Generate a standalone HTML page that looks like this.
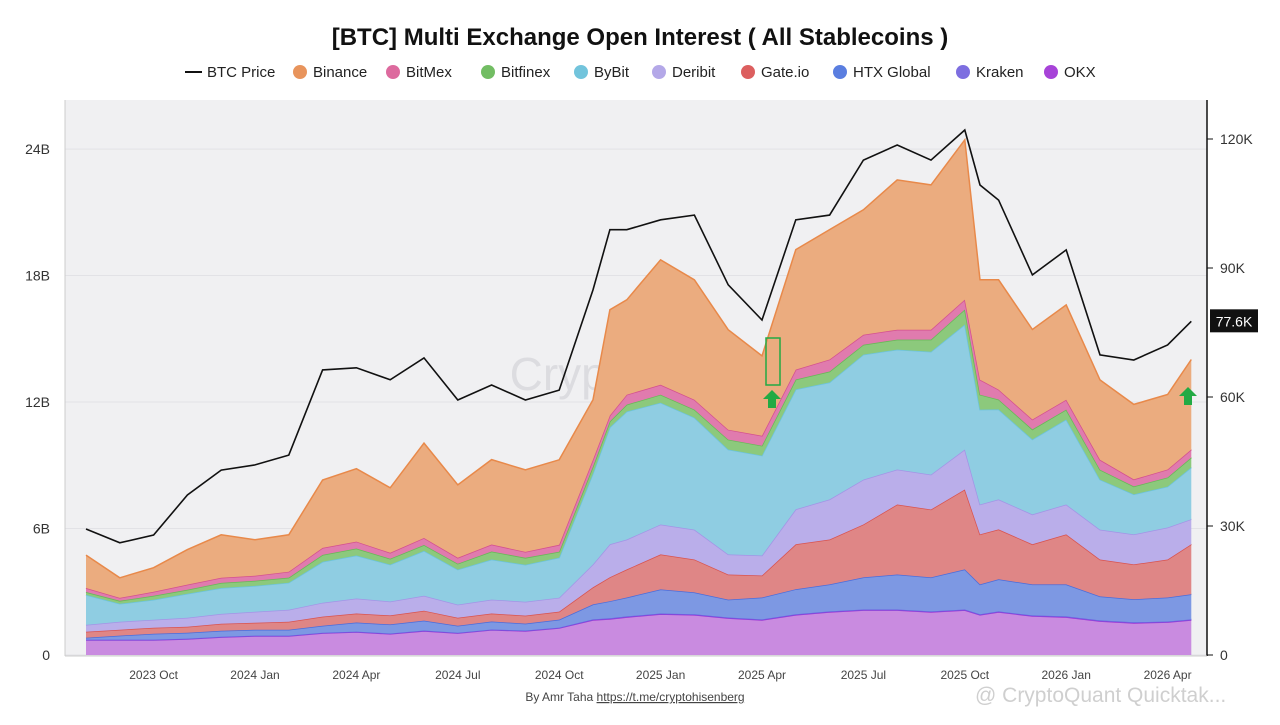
<!DOCTYPE html>
<html><head><meta charset="utf-8">
<style>
body{margin:0;background:#fff;font-family:"Liberation Sans",sans-serif;}
svg text{font-family:"Liberation Sans",sans-serif;}
</style></head>
<body>
<svg id="chart" width="1280" height="720" xmlns="http://www.w3.org/2000/svg">
<text x="640" y="45" text-anchor="middle" font-size="24" font-weight="bold" fill="#111">[BTC] Multi Exchange Open Interest ( All Stablecoins )</text>
<g id="legend"></g>
<rect x="65" y="100" width="1142" height="556" fill="#f0f0f2"/>
<text x="640" y="390" text-anchor="middle" font-size="46" fill="#d8d8dc" opacity="0.8">CryptoQuant</text>
<g id="grid"></g>
<g id="areas"></g>
<g id="axes"></g>
<text x="635" y="701" text-anchor="middle" font-size="12" fill="#444">By Amr Taha <tspan text-decoration="underline">https://t.me/cryptohisenberg</tspan></text>
<text x="975" y="702" font-size="21" fill="#c4c4c4" opacity="0.8">@ CryptoQuant Quicktak...</text>
</svg>
<script>
const NS="http://www.w3.org/2000/svg";
const months=[0,1,2,3,4,5,6,7,8,9,10,11,12,13,14,15,15.5,16,17,18,19,20,21,22,23,24,25,26,26.45,27,28,29,30,31,32,32.7];
const okx=[0.71,0.71,0.71,0.76,0.85,0.90,0.90,1.04,1.09,1.00,1.14,1.04,1.19,1.14,1.28,1.66,1.71,1.80,1.94,1.90,1.75,1.66,1.90,2.04,2.13,2.13,2.04,2.13,1.90,2.04,1.85,1.80,1.61,1.52,1.56,1.66];
const kraken=[0.02,0.02,0.02,0.02,0.02,0.02,0.02,0.02,0.02,0.02,0.02,0.02,0.02,0.02,0.02,0.03,0.03,0.03,0.03,0.03,0.03,0.03,0.03,0.03,0.03,0.03,0.03,0.03,0.03,0.03,0.03,0.03,0.03,0.03,0.03,0.03];
const htx=[0.09,0.19,0.28,0.28,0.28,0.28,0.28,0.33,0.43,0.43,0.47,0.33,0.38,0.33,0.38,0.71,0.81,0.90,1.14,1.04,0.85,1.04,1.19,1.28,1.52,1.66,1.61,1.90,1.42,1.52,1.47,1.52,1.14,1.09,1.14,1.19];
const gate=[0.28,0.28,0.28,0.28,0.33,0.33,0.38,0.43,0.43,0.43,0.47,0.38,0.38,0.38,0.38,0.81,1.14,1.33,1.66,1.56,1.19,1.04,2.13,2.13,2.51,3.32,3.22,3.79,2.37,2.37,1.90,2.37,1.75,1.66,1.80,2.37];
const deribit=[0.33,0.38,0.38,0.43,0.47,0.52,0.57,0.66,0.71,0.66,0.71,0.62,0.66,0.66,0.66,1.09,1.56,1.42,1.42,1.42,0.95,0.95,1.66,1.90,2.13,1.66,1.66,1.90,1.42,1.42,1.42,1.42,1.42,1.42,1.52,1.19];
const bybit=[1.42,0.85,0.95,1.14,1.23,1.23,1.28,1.94,2.04,1.75,2.13,1.66,1.90,1.75,1.90,4.31,5.55,6.07,5.78,5.31,4.98,4.74,5.69,5.55,5.93,5.69,5.83,5.93,4.50,4.27,3.56,4.03,2.37,1.90,1.94,2.46];
const bitfinex=[0.14,0.14,0.19,0.19,0.24,0.24,0.24,0.33,0.33,0.28,0.28,0.28,0.38,0.33,0.28,0.33,0.28,0.33,0.38,0.38,0.47,0.47,0.47,0.52,0.47,0.47,0.57,0.71,0.71,0.47,0.47,0.47,0.47,0.38,0.43,0.47];
const bitmex=[0.19,0.14,0.19,0.24,0.24,0.24,0.28,0.33,0.33,0.28,0.33,0.28,0.33,0.28,0.33,0.33,0.28,0.47,0.47,0.47,0.47,0.47,0.47,0.57,0.47,0.47,0.47,0.47,0.71,0.47,0.47,0.47,0.47,0.33,0.38,0.38];
const binance=[1.56,0.95,1.14,1.66,2.04,1.71,1.75,3.22,3.46,3.08,4.50,3.46,4.03,3.89,4.03,2.84,5.02,4.50,5.93,5.69,4.74,3.79,5.69,6.16,5.93,7.11,6.87,7.58,4.74,5.21,4.27,4.50,3.79,3.56,3.56,4.27];
const btc=[29.3,26.1,27.9,37.2,43.0,44.2,46.5,66.3,66.8,64.0,69.1,59.3,62.8,59.3,61.6,84.9,98.9,98.9,101.2,102.3,86.1,77.9,101.2,102.3,115.1,118.6,115.1,122.1,109.3,105.8,88.4,94.2,69.8,68.6,72.1,77.6];
const leftTicks=[0,6,12,18,24];
const leftLabels=["0","6B","12B","18B","24B"];
const rightTicks=[0,30,60,90,120];
const rightLabels=["0","30K","60K","90K","120K"];
const xTickMonths=[2,5,8,11,14,17,20,23,26,29,32];
const xTickLabels=["2023 Oct","2024 Jan","2024 Apr","2024 Jul","2024 Oct","2025 Jan","2025 Apr","2025 Jul","2025 Oct","2026 Jan","2026 Apr"];

const xS=m=>86+m*33.8;
const yL=v=>655-v*21.08;
const yR=v=>655-v*4.3;
function mk(tag,attrs,parent){const e=document.createElementNS(NS,tag);for(const k in attrs)e.setAttribute(k,attrs[k]);parent.appendChild(e);return e;}

const series=[
 {name:"okx",data:okx,fill:"#c98be0",line:"#9b33d4"},
 {name:"kraken",data:kraken,fill:"#8a7be6",line:"#6d5ee0"},
 {name:"htx",data:htx,fill:"#7d98e3",line:"#4a6cdc"},
 {name:"gate",data:gate,fill:"#df8686",line:"#d9534f"},
 {name:"deribit",data:deribit,fill:"#baaeea",line:"#a394e6"},
 {name:"bybit",data:bybit,fill:"#8fcde2",line:"#6cc3dd"},
 {name:"bitfinex",data:bitfinex,fill:"#8cc97c",line:"#66b956"},
 {name:"bitmex",data:bitmex,fill:"#e07bae",line:"#d4508f"},
 {name:"binance",data:binance,fill:"#ebac7f",line:"#e8894a"}
];
const areas=document.getElementById('areas');
let base=months.map(()=>0);
series.forEach(s=>{
  const top=base.map((b,i)=>b+s.data[i]);
  let d="M"+months.map((m,i)=>xS(m).toFixed(1)+","+yL(top[i]).toFixed(1)).join("L");
  for(let i=months.length-1;i>=0;i--)d+="L"+xS(months[i]).toFixed(1)+","+yL(base[i]).toFixed(1);
  const a=mk('path',{d:d+"Z",fill:s.fill,stroke:"none"},areas);
  
  
  const l=mk('polyline',{points:months.map((m,i)=>xS(m).toFixed(1)+","+yL(top[i]).toFixed(1)).join(" "),fill:"none",stroke:s.line,"stroke-width":1.5},areas);
  
  
  base=top;
});
const bl=mk('polyline',{points:months.map((m,i)=>xS(m).toFixed(1)+","+yR(btc[i]).toFixed(1)).join(" "),fill:"none",stroke:"#111","stroke-width":1.6},areas);



const axes=document.getElementById('axes');
const grid=document.getElementById('grid');
leftTicks.forEach((v,i)=>{
  const g=mk('line',{x1:65,x2:1207,y1:yL(v),y2:yL(v),stroke:"#e2e2e6","stroke-width":1},grid);
  
  
  const t=mk('text',{x:50,y:yL(v)+5,"text-anchor":"end","font-size":14,fill:"#333"},axes);
  t.textContent=leftLabels[i];
  
  
});
rightTicks.forEach((v,i)=>{
  const t=mk('text',{x:1220,y:yR(v)+5,"font-size":14,fill:"#333"},axes);
  t.textContent=rightLabels[i];
  
  
  const k=mk('line',{x1:1207,x2:1213,y1:yR(v),y2:yR(v),stroke:"#111"},axes);
  
  
});
xTickMonths.forEach((m,i)=>{
  const t=mk('text',{x:xS(m),y:679,"text-anchor":"middle","font-size":12,fill:"#444"},axes);
  t.textContent=xTickLabels[i];
  
  
});
let e;
e=mk('line',{x1:65,x2:65,y1:100,y2:656,stroke:"#ccc"},axes);

e=mk('line',{x1:1207,x2:1207,y1:100,y2:656,stroke:"#111","stroke-width":1.5},axes);

e=mk('line',{x1:65,x2:1207,y1:656,y2:656,stroke:"#ccc"},axes);

const last=btc[btc.length-1];
e=mk('rect',{x:1210,y:yR(last)-12,width:48,height:23,fill:"#111"},axes);

e=mk('text',{x:1234,y:yR(last)+5,"text-anchor":"middle","font-size":14,fill:"#fff"},axes);
e.textContent=last.toFixed(1)+"K";

e=mk('rect',{x:766,y:338,width:14,height:47,fill:"none",stroke:"#22aa44","stroke-width":1.5},axes);

[[772,390],[1188,387]].forEach(p=>{
  const a=mk('path',{d:`M${p[0]},${p[1]}l-9,9h5v9h8v-9h5z`,fill:"#22aa44"},axes);
  
  
});
const legendItems=[["BTC Price",null],["Binance","#e8945c"],["BitMex","#dd6a9e"],["Bitfinex","#72bd63"],["ByBit","#72c4dc"],["Deribit","#b4a8e8"],["Gate.io","#dc5f5f"],["HTX Global","#5a7ee0"],["Kraken","#7d6ee0"],["OKX","#a743d8"]];
const legendX=[185,292,385,480,573,651,740,832,955,1043];
const lg=document.getElementById('legend');
legendItems.forEach((it,i)=>{
  const x=legendX[i];
  let m;
  if(it[1]===null) m=mk('line',{x1:x,x2:x+17,y1:72,y2:72,stroke:"#111","stroke-width":2},lg);
  else m=mk('circle',{cx:x+8,cy:72,r:7,fill:it[1]},lg);
  
  
  const t=mk('text',{x:x+(it[1]===null?22:21),y:77,"font-size":15,fill:"#222"},lg);
  t.textContent=it[0];
  
  
});
</script>
</body></html>
